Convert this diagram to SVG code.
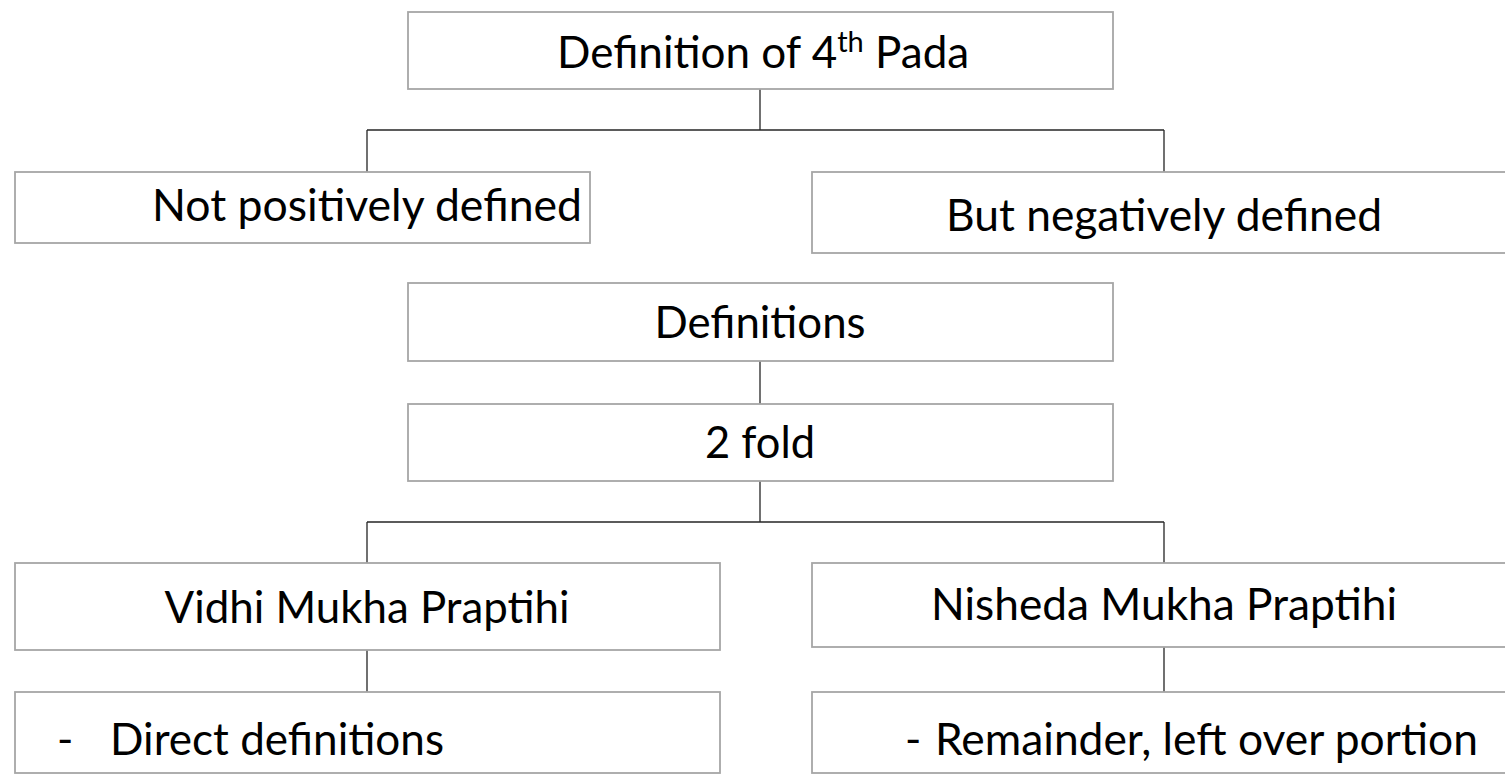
<svg xmlns="http://www.w3.org/2000/svg" width="1505" height="774" viewBox="0 0 1505 774">
  <style>
    .box { fill: #ffffff; stroke: #a6a6a6; stroke-width: 1.8; }
    .conn { fill: none; stroke: #262626; stroke-width: 1.3; }
    .lbl { font-family: "Lato", "Liberation Sans", sans-serif; font-size: 44px; fill: #000000; }
    .mid { text-anchor: middle; }
  </style>
  <rect width="1505" height="774" fill="#ffffff"/>

  <!-- connectors -->
  <g id="connectors">
    <path class="conn" d="M760,89 V130 M367,130 H1164 M367,130 V172 M1164,130 V172"/>
    <path class="conn" d="M760,361 V404"/>
    <path class="conn" d="M760,481 V522 M367,522 H1164 M367,522 V563 M1164,522 V563"/>
    <path class="conn" d="M367,650 V692 M1164,647 V692"/>
  </g>

  <g id="pada">
    <rect class="box" x="408" y="12" width="705" height="77"/>
    <text class="lbl" x="557" y="68">Definition of 4<tspan font-size="29" dy="-16">th</tspan><tspan dy="16"> Pada</tspan></text>
  </g>

  <g id="not-positive">
    <rect class="box" x="15" y="172" width="575" height="71"/>
    <text class="lbl mid" x="367" y="221" textLength="430" lengthAdjust="spacingAndGlyphs">Not positively defined</text>
  </g>

  <g id="negative">
    <rect class="box" x="812" y="172" width="706" height="81"/>
    <text class="lbl mid" x="1164" y="231" textLength="436" lengthAdjust="spacingAndGlyphs">But negatively defined</text>
  </g>

  <g id="definitions">
    <rect class="box" x="408" y="283" width="705" height="78"/>
    <text class="lbl mid" x="760" y="338" textLength="211" lengthAdjust="spacingAndGlyphs">Definitions</text>
  </g>

  <g id="two-fold">
    <rect class="box" x="408" y="404" width="705" height="77"/>
    <text class="lbl mid" x="760" y="458" textLength="110" lengthAdjust="spacingAndGlyphs">2 fold</text>
  </g>

  <g id="vidhi">
    <rect class="box" x="15" y="563" width="705" height="87"/>
    <text class="lbl mid" x="367" y="623" textLength="405" lengthAdjust="spacingAndGlyphs">Vidhi Mukha Praptihi</text>
  </g>

  <g id="nisheda">
    <rect class="box" x="812" y="563" width="706" height="84"/>
    <text class="lbl mid" x="1164" y="620" textLength="466" lengthAdjust="spacingAndGlyphs">Nisheda Mukha Praptihi</text>
  </g>

  <g id="direct">
    <rect class="box" x="15" y="692" width="705" height="81"/>
    <text class="lbl" x="57" y="755">-</text>
    <text class="lbl" x="110" y="755" textLength="334" lengthAdjust="spacingAndGlyphs">Direct definitions</text>
  </g>

  <g id="remainder">
    <rect class="box" x="812" y="692" width="706" height="81"/>
    <text class="lbl" x="905" y="755">-</text>
    <text class="lbl" x="935" y="755" textLength="543" lengthAdjust="spacingAndGlyphs">Remainder, left over portion</text>
  </g>
</svg>
